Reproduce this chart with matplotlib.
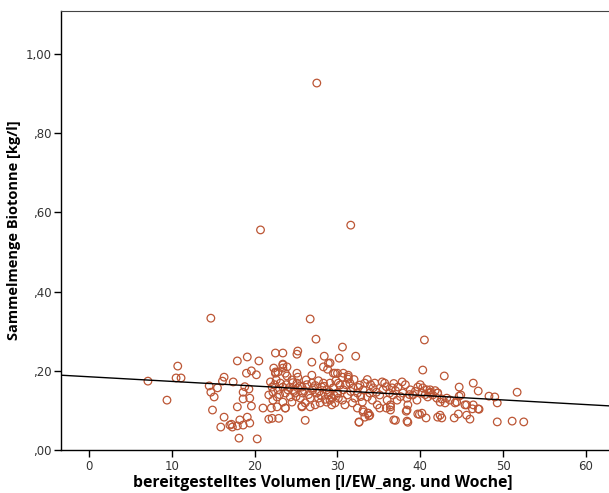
import matplotlib
matplotlib.use('Agg')
import matplotlib.pyplot as plt
from matplotlib.ticker import FuncFormatter

# Werte (Volumen in l/EW und Woche, Biotonne in kg/l)
volumen = [
    7.1, 9.4, 10.7, 10.5, 11.1, 14.7,
    14.5, 14.7, 15.1, 15.5, 14.9, 16.1, 16.3, 16.3, 15.9,
    17.0, 17.3, 17.2, 17.9, 18.2, 18.1, 17.4, 17.9, 17.9,
    19.1, 20.5, 19.0, 19.6, 20.2, 19.3, 18.8, 18.6, 19.4, 18.6, 19.6,
    21.0, 22.0, 19.1, 19.4, 18.6, 20.3, 20.7,
    22.5, 23.4, 22.5, 22.1, 21.7, 22.9,
    21.9, 22.1, 22.2, 21.7, 22.2, 23.1, 23.4, 23.7, 24.0, 24.3, 24.5, 23.4,
    22.7, 23.7, 25.1, 25.2, 25.7, 25.8, 25.5, 26.1, 26.7, 26.9, 27.1, 27.5,
    27.7, 28.1, 28.3, 28.7, 28.9, 29.1, 29.3, 29.5, 30.0, 30.1, 30.1, 27.3,
    25.7, 24.9, 22.7, 24.5, 26.7, 27.9, 28.7,
    23.4, 23.4, 23.7, 23.9, 25.1, 25.2, 26.9, 29.5, 30.0, 30.6, 31.3, 31.3,
    25.1, 25.2, 26.9, 28.4, 28.9, 28.3, 28.8,
    27.4, 26.7, 27.5, 31.6, 30.6,
    26.1, 25.7, 23.7, 22.3, 23.4, 23.9, 22.5, 22.8,
    29.1, 29.5, 30.0, 29.3, 29.7, 30.3, 30.7, 31.2, 30.6, 30.9, 31.5, 31.9,
    32.4, 32.1, 31.8, 32.7, 33.1, 33.3, 33.6, 33.0, 33.9, 34.3, 34.2, 34.8,
    34.5, 35.1, 35.5, 35.7, 36.0, 36.4, 36.6, 36.7, 37.2, 37.3, 37.8, 37.9,
    38.4, 38.5, 38.8, 39.1, 39.6, 39.7, 40.2, 40.3, 40.8, 40.9, 41.2, 41.5,
    42.0, 42.1, 38.4, 36.4, 33.1, 32.4, 33.7, 33.3, 33.9,
    32.6, 36.8, 38.4, 39.7, 40.2, 40.7, 42.1,
    40.5, 40.3, 29.7, 30.7, 31.3, 29.1, 30.2, 32.2,
    33.8, 33.7, 33.1, 35.1, 35.9, 36.4, 38.3, 38.5, 37.0, 32.6,
    42.9, 44.7, 46.4, 47.0, 48.3, 49.0, 49.3, 51.7,
    41.2, 41.2, 42.1, 42.4, 42.6, 43.2, 43.0, 43.6, 44.2, 44.4, 44.7, 44.9,
    45.6, 46.4, 46.3, 47.0, 42.4, 42.6, 44.1, 44.6, 45.6, 46.0,
    49.3, 51.1, 52.5, 45.4, 47.1, 39.9,
    22.4, 22.8, 23.0, 23.8, 24.2, 24.7, 25.0, 25.5, 26.0, 26.3, 26.5, 27.0,
    27.3, 27.8, 28.0, 28.4, 28.5, 29.0, 29.6, 22.6, 24.6, 26.2, 27.7, 29.8,
    31.0, 31.6, 32.5, 32.8, 34.0, 34.7, 35.9, 36.3, 37.0, 37.6, 38.2, 38.7,
    39.4, 40.0, 40.6, 41.8, 35.4, 36.8, 33.6, 32.0,
]
biotonne = [
    0.174, 0.126, 0.212, 0.182, 0.182, 0.333,
    0.162, 0.146, 0.134, 0.157, 0.101, 0.174, 0.184, 0.083, 0.058,
    0.063, 0.058, 0.065, 0.061, 0.076, 0.030, 0.172, 0.225, 0.109,
    0.235, 0.225, 0.194, 0.200, 0.190, 0.154, 0.160, 0.146, 0.131, 0.129, 0.111,
    0.106, 0.106, 0.083, 0.068, 0.063, 0.028, 0.556,
    0.245, 0.245, 0.197, 0.080, 0.078, 0.080,
    0.172, 0.159, 0.146, 0.139, 0.126, 0.169, 0.159, 0.144, 0.152, 0.134, 0.121, 0.121,
    0.109, 0.106, 0.169, 0.157, 0.159, 0.144, 0.131, 0.119, 0.109, 0.169, 0.157, 0.144,
    0.131, 0.159, 0.169, 0.152, 0.139, 0.126, 0.114, 0.157, 0.144, 0.131, 0.169, 0.114,
    0.109, 0.144, 0.134, 0.177, 0.131, 0.119, 0.121,
    0.215, 0.207, 0.194, 0.187, 0.194, 0.184, 0.189, 0.194, 0.194, 0.184, 0.189, 0.179,
    0.242, 0.250, 0.222, 0.237, 0.219, 0.210, 0.204,
    0.280, 0.331, 0.927, 0.568, 0.260,
    0.075, 0.111, 0.106, 0.207, 0.217, 0.210, 0.194, 0.197,
    0.169, 0.157, 0.144, 0.131, 0.119, 0.164, 0.152, 0.139, 0.126, 0.114, 0.169, 0.157,
    0.144, 0.131, 0.119, 0.164, 0.152, 0.169, 0.134, 0.121, 0.144, 0.157, 0.126, 0.114,
    0.169, 0.139, 0.152, 0.169, 0.126, 0.114, 0.157, 0.139, 0.126, 0.159, 0.172, 0.144,
    0.131, 0.114, 0.152, 0.139, 0.126, 0.159, 0.144, 0.157, 0.152, 0.134, 0.146, 0.139,
    0.131, 0.144, 0.101, 0.101, 0.101, 0.106, 0.093, 0.083, 0.088,
    0.071, 0.076, 0.073, 0.091, 0.093, 0.081, 0.083,
    0.278, 0.202, 0.194, 0.194, 0.184, 0.220, 0.232, 0.237,
    0.086, 0.093, 0.096, 0.106, 0.106, 0.109, 0.098, 0.070, 0.075, 0.070,
    0.187, 0.159, 0.169, 0.149, 0.136, 0.134, 0.119, 0.146,
    0.152, 0.144, 0.144, 0.121, 0.129, 0.131, 0.119, 0.126, 0.119, 0.121, 0.136, 0.139,
    0.114, 0.114, 0.104, 0.104, 0.088, 0.081, 0.081, 0.091, 0.088, 0.078,
    0.071, 0.073, 0.071, 0.114, 0.103, 0.090,
    0.165, 0.152, 0.140, 0.165, 0.158, 0.148, 0.135, 0.162, 0.150, 0.165, 0.140, 0.152,
    0.163, 0.148, 0.138, 0.161, 0.128, 0.147, 0.138, 0.177, 0.170, 0.177, 0.175, 0.175,
    0.165, 0.148, 0.158, 0.135, 0.165, 0.146, 0.160, 0.144, 0.150, 0.135, 0.165, 0.140,
    0.148, 0.165, 0.140, 0.150, 0.172, 0.168, 0.178, 0.178,
]

# Regressionsgerade
fit_achse = 0.185
fit_steigung = -0.00117

x_ticks = [0, 10, 20, 30, 40, 50, 60]
y_ticks = [0.0, 0.2, 0.4, 0.6, 0.8, 1.0]


def komma(v, pos):
    s = '%.2f' % v
    s = s.replace('.', ',')
    if s.startswith('0'):
        s = s[1:]
    return s


fig = plt.figure(figsize=(6.09, 4.93), dpi=100)
ax = fig.add_axes([0.1002, 0.0872, 0.8998, 0.8905])

ax.scatter(volumen, biotonne, s=30, facecolors='none', edgecolors='#BC5635',
           linewidths=0.9, zorder=3)

x0, x1 = -3.4, 62.8
ax.plot([x0, x1], [fit_achse + fit_steigung * x0, fit_achse + fit_steigung * x1],
        color='black', linewidth=1.0, zorder=4)

ax.set_xlim(x0, x1)
ax.set_ylim(0, 1.109)
ax.set_xticks(x_ticks)
ax.set_yticks(y_ticks)
ax.yaxis.set_major_formatter(FuncFormatter(komma))

ax.spines['right'].set_visible(False)
ax.spines['top'].set_color('#444444')
ax.spines['top'].set_linewidth(0.8)
ax.spines['left'].set_linewidth(1.0)
ax.spines['bottom'].set_linewidth(1.0)
ax.tick_params(direction='out', length=5, width=1, labelsize=8.5,
               labelcolor='#333333', pad=2)

ax.set_xlabel('bereitgestelltes Volumen [l/EW_ang. und Woche]', fontsize=11.3,
              fontweight='bold', family='Open Sans', labelpad=2)
ax.xaxis.set_label_coords(0.478, -0.058)
ax.set_ylabel('Sammelmenge Biotonne [kg/l]', fontsize=10.5, fontweight='bold',
              family='Open Sans', labelpad=3)

fig.savefig('out.png', dpi=100)
